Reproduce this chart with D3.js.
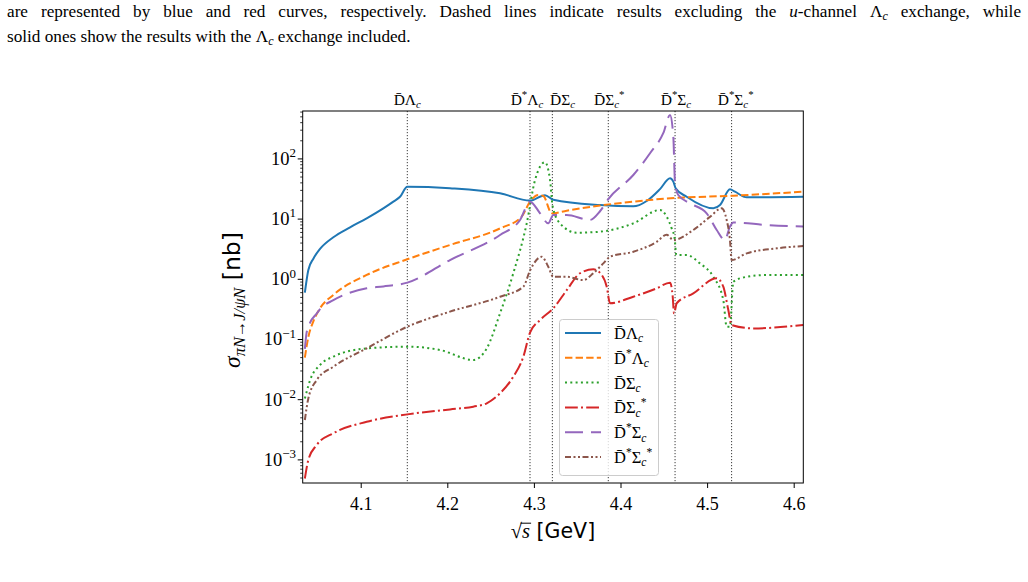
<!DOCTYPE html>
<html><head><meta charset="utf-8">
<script src="https://cdn.jsdelivr.net/npm/d3@7"></script>
<style>body{margin:0;background:#fff}svg{display:block}</style>
</head><body>
<svg id="c" width="1028" height="582"></svg>
<script>
// ---------------- data (sqrt(s) in GeV, sigma in nb) ----------------
const thresholds = [4.1538, 4.2955, 4.3213, 4.3859, 4.4630, 4.5283];
const thresholdLabels = ["DΛc", "D*Λc", "DΣc", "DΣc*", "D*Σc", "D*Σc*"];
const thresholdLabelPos = [4.1538, 4.2920, 4.3330, 4.3870, 4.4640, 4.5330];
const xTicks = [4.1, 4.2, 4.3, 4.4, 4.5, 4.6];
const yTicks = [1e-3, 1e-2, 1e-1, 1, 10, 100];

const dLambdaC = [[4.0355,0.6],[4.0395,1.43],[4.0453,2.2],[4.0530,3.2],[4.0684,5.0],[4.0877,7.3],[4.1069,10.3],[4.1261,15.1],[4.1377,19.5],[4.1454,23.5],[4.1538,34.5],[4.2031,32.6],[4.2609,26.8],[4.2955,20.3],[4.3128,25.0],[4.3224,21.0],[4.3763,17.1],[4.4148,16.3],[4.4303,20.0],[4.4456,31.5],[4.4572,47.6],[4.4610,41.9],[4.4637,32.6],[4.4764,23.5],[4.5072,15.1],[4.5149,17.1],[4.5264,31.3],[4.5322,28.5],[4.5457,23.0],[4.6111,23.5]];
const dStarLambdaC = [[4.0355,0.05],[4.0395,0.11],[4.0453,0.2],[4.0530,0.33],[4.0684,0.55],[4.1069,1.18],[4.1538,2.15],[4.2031,3.72],[4.2609,7.0],[4.2859,11.0],[4.2955,19.5],[4.3051,25.1],[4.3109,24.2],[4.3206,12.5],[4.3379,13.8],[4.3763,16.8],[4.4148,19.5],[4.4533,22.0],[4.5303,24.5],[4.6111,28.5]];
const dSigmaC = [[4.0355,0.0105],[4.0395,0.017],[4.0415,0.021],[4.0530,0.0377],[4.0684,0.052],[4.1069,0.071],[4.1538,0.076],[4.1916,0.067],[4.2300,0.0457],[4.2455,0.071],[4.2609,0.272],[4.2762,1.26],[4.2917,8.5],[4.3013,44.6],[4.3128,88],[4.3186,45],[4.3217,16.1],[4.3301,8.5],[4.3494,5.94],[4.3763,6.18],[4.4148,8.5],[4.4456,14.2],[4.4533,11.0],[4.4591,7.0],[4.4625,4.8],[4.4645,2.53],[4.4764,2.53],[4.4918,1.84],[4.5072,1.1],[4.5187,0.453],[4.5226,0.163],[4.5264,0.163],[4.5303,0.91],[4.5457,1.1],[4.5688,1.18],[4.6111,1.18]];
const dSigmaCStar = [[4.0355,4.9e-4],[4.0395,1.0e-3],[4.0492,1.77e-3],[4.0684,2.77e-3],[4.1069,4.3e-3],[4.1538,5.7e-3],[4.2031,6.9e-3],[4.2300,7.65e-3],[4.2455,8.7e-3],[4.2609,0.0128],[4.2762,0.0241],[4.2878,0.0518],[4.2955,0.13],[4.3071,0.21],[4.3224,0.33],[4.3379,0.66],[4.3532,1.26],[4.3686,1.47],[4.3783,1.18],[4.3841,0.75],[4.3879,0.40],[4.4148,0.514],[4.4418,0.708],[4.4572,0.879],[4.4603,0.514],[4.4618,0.272],[4.4649,0.40],[4.4841,0.585],[4.5111,1.04],[4.5187,0.753],[4.5245,0.309],[4.5283,0.174],[4.5533,0.153],[4.6111,0.174]];
const dStarSigmaC = [[4.0355,0.07],[4.0375,0.13],[4.0415,0.19],[4.0492,0.27],[4.0530,0.32],[4.0684,0.45],[4.1069,0.71],[4.1261,0.76],[4.1538,0.88],[4.2031,2.09],[4.2609,5.44],[4.2840,9.67],[4.2955,19.5],[4.3071,12.5],[4.3166,8.5],[4.3224,11.7],[4.3379,11.7],[4.3648,9.7],[4.3763,13.5],[4.3859,21.5],[4.4148,54],[4.4341,124],[4.4495,270],[4.4572,536],[4.4610,234],[4.4630,39.3],[4.4667,25.1],[4.4802,18.3],[4.4995,12.5],[4.5111,6.6],[4.5206,4.5],[4.5264,7.5],[4.5303,8.8],[4.5688,7.97],[4.6111,7.5]];
const dStarSigmaCStar = [[4.0355,4.6e-3],[4.0395,0.0105],[4.0492,0.0212],[4.0684,0.0353],[4.1069,0.0714],[4.1538,0.163],[4.2031,0.29],[4.2609,0.514],[4.2878,0.753],[4.2955,1.4],[4.3090,2.37],[4.3166,1.62],[4.3224,1.1],[4.3379,1.1],[4.3570,0.97],[4.3686,1.26],[4.3802,1.84],[4.3879,2.37],[4.4148,2.87],[4.4418,4.2],[4.4533,5.5],[4.4610,4.5],[4.4841,6.6],[4.5033,10.9],[4.5168,15.1],[4.5226,9.67],[4.5264,4.5],[4.5283,2.09],[4.5457,2.7],[4.5804,3.27],[4.6111,3.57]];

const seriesNames = ["DΛc", "D*Λc", "DΣc", "DΣc*", "D*Σc", "D*Σc*"];
const seriesData = [dLambdaC, dStarLambdaC, dSigmaC, dSigmaCStar, dStarSigmaC, dStarSigmaCStar];
const seriesColors = ["#1f77b4", "#ff7f0e", "#2ca02c", "#d62728", "#9467bd", "#8c564b"];
const seriesDash = [null, "7.4,3.2", "2,3.3", "12.8,3.2,2,3.2", "18,8", "6,2.5,2,2.5,2,2.5"];

// ---------------- drawing ----------------
const SERIF = "'Liberation Serif','DejaVu Serif',serif";
const SANS = "'DejaVu Sans',sans-serif";
const svg = d3.select('#c');
const X0 = 302.7, X1 = 803.3, Y0 = 111, Y1 = 483;
const x = d3.scaleLinear().domain([4.0330, 4.6111]).range([X0, X1]);
const y = d3.scaleLog().domain([4.13e-4, 625]).range([Y1, Y0]);

function labelParts(s) {
  const parts = [];
  parts.push({t: "D\u0304"});
  let rest = s.slice(1);
  if (rest[0] === '*') { parts.push({t: '*', k: 'sup'}); rest = rest.slice(1); }
  parts.push({t: rest[0]}); rest = rest.slice(1);
  if (rest === 'c*') { parts.push({t: 'c', k: 'sub', it: true}); parts.push({t: '*', k: 'sup'}); }
  else parts.push({t: 'c', k: 'sub', it: true});
  return parts;
}
function mathText(g, px, py, parts, fs, anchor) {
  const t = g.append('text').attr('x', px).attr('y', py).attr('font-size', fs)
    .attr('font-family', SERIF).attr('text-anchor', anchor || 'start').attr('fill', '#000');
  let cur = 0;
  parts.forEach(p => {
    const sp = t.append('tspan').text(p.t);
    let target = 0, size = fs;
    if (p.k === 'sup') { target = -0.42 * fs; size = 0.7 * fs; }
    else if (p.k === 'sub') { target = 0.2 * fs; size = 0.7 * fs; }
    sp.attr('dy', target - cur).attr('font-size', size);
    if (p.it) sp.attr('font-style', 'italic');
    if (p.dx) sp.attr('dx', p.dx * fs);
    if (p.f) sp.attr('font-family', p.f);
    cur = target;
  });
  return t;
}

// caption text
function caption(py, parts, target) {
  const t = mathText(svg, 7, py, parts, 17.2, 'start');
  if (target) {
    const nat = t.node().getComputedTextLength();
    const n = parts.map(p => p.t).join('').split(' ').length - 1;
    t.attr('word-spacing', (target - nat) / n);
  }
}
caption(17, [{t: "are represented by blue and red curves, respectively. Dashed lines indicate results excluding the "}, {t: "u", it: true}, {t: "-channel Λ"}, {t: "c", k: 'sub', it: true}, {t: " exchange, while"}], 1014);
caption(42, [{t: "solid ones show the results with the Λ"}, {t: "c", k: 'sub', it: true}, {t: " exchange included."}], null);

// threshold lines
const plot = svg.append('g');
plot.append('defs').append('clipPath').attr('id', 'clip').append('rect')
  .attr('x', X0).attr('y', Y0).attr('width', X1 - X0).attr('height', Y1 - Y0);
plot.selectAll('line.th').data(thresholds).join('line').attr('class', 'th')
  .attr('x1', d => x(d)).attr('x2', d => x(d)).attr('y1', Y0).attr('y2', Y1)
  .attr('stroke', '#000').attr('stroke-width', 0.9).attr('stroke-dasharray', '1.2,1.8').attr('opacity', 0.85);
thresholdLabels.forEach((l, i) => mathText(svg, x(thresholdLabelPos[i]), 105, labelParts(l), 15.5, 'middle'));

// curves
const line = d3.line().x(d => x(d[0])).y(d => y(d[1])).curve(d3.curveMonotoneX);
const cg = plot.append('g').attr('clip-path', 'url(#clip)');
seriesData.forEach((d, i) => {
  cg.append('path').attr('d', line(d)).attr('fill', 'none').attr('stroke', seriesColors[i])
    .attr('stroke-width', 2).attr('stroke-dasharray', seriesDash[i]).attr('stroke-linejoin', 'round');
});

// frame
svg.append('rect').attr('x', X0).attr('y', Y0).attr('width', X1 - X0).attr('height', Y1 - Y0)
  .attr('fill', 'none').attr('stroke', '#000').attr('stroke-width', 1);

// x axis
const xa = svg.append('g').attr('transform', `translate(0,${Y1})`)
  .call(d3.axisBottom(x).tickValues(xTicks).tickSize(5).tickFormat(d3.format('.1f')));
xa.select('.domain').remove();
xa.selectAll('text').attr('font-family', SERIF).attr('font-size', 18).attr('dy', '1.05em').attr('fill', '#000');

// y axis: major + minor ticks
const yg = svg.append('g');
const minor = [];
for (let e = -4; e <= 2; e++) for (let m = 2; m <= 9; m++) { const v = m * Math.pow(10, e); if (v >= y.domain()[0] && v <= y.domain()[1]) minor.push(v); }
yg.selectAll('line.mi').data(minor).join('line').attr('x1', X0).attr('x2', X0 - 2.5)
  .attr('y1', d => y(d)).attr('y2', d => y(d)).attr('stroke', '#000').attr('stroke-width', 0.8);
yg.selectAll('line.ma').data(yTicks).join('line').attr('x1', X0).attr('x2', X0 - 5)
  .attr('y1', d => y(d)).attr('y2', d => y(d)).attr('stroke', '#000').attr('stroke-width', 1);
yTicks.forEach(v => {
  const e = Math.round(Math.log10(v));
  mathText(svg, 296, y(v) + 6, [{t: '10'}, {t: (e < 0 ? '\u2212' : '') + Math.abs(e), k: 'sup'}], 18.5, 'end');
});

// axis labels
const xl = mathText(svg, 553, 538, [{t: '\u221A'}, {t: 's', it: true}, {t: ' [GeV]', f: SANS}], 20.5, 'middle');
(function () {
  const b = xl.node().getExtentOfChar(1);
  const r = xl.node().getExtentOfChar(0);
  svg.append('line').attr('x1', r.x + r.width - 1.5).attr('x2', b.x + b.width + 1).attr('y1', r.y + 3.2).attr('y2', r.y + 3.2)
    .attr('stroke', '#000').attr('stroke-width', 1);
})();
const yl = svg.append('g').attr('transform', 'translate(240,300) rotate(-90)');
mathText(yl, 0, 0, [{t: 'σ', it: true}, {t: 'πN→J/ψN', k: 'sub', it: true}, {t: ' [nb]', f: SANS}], 23.5, 'middle');

// legend
const lg = svg.append('g');
lg.append('rect').attr('x', 559.5).attr('y', 319.5).attr('width', 99).attr('height', 156).attr('rx', 3)
  .attr('fill', '#fff').attr('fill-opacity', 0.8).attr('stroke', '#ccc').attr('stroke-width', 1);
seriesNames.forEach((n, i) => {
  const yy = 333 + i * 24.8;
  lg.append('line').attr('x1', 565).attr('x2', 601).attr('y1', yy).attr('y2', yy)
    .attr('stroke', seriesColors[i]).attr('stroke-width', 2).attr('stroke-dasharray', seriesDash[i]);
  mathText(lg, 614, yy + 6, labelParts(n), 16.5, 'start');
});
</script>
</body></html>
